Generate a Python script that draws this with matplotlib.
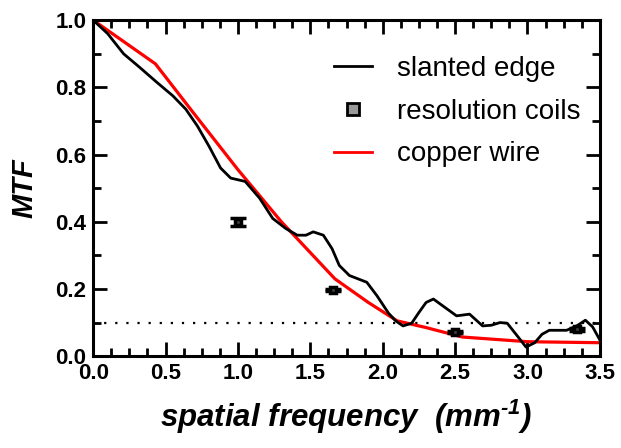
import numpy as np
import matplotlib.pyplot as plt
from matplotlib.lines import Line2D
from matplotlib.ticker import MultipleLocator

plt.rcParams['font.family'] = ['Liberation Sans', 'DejaVu Sans']
plt.rcParams['mathtext.fontset'] = 'custom'
plt.rcParams['mathtext.rm'] = 'Liberation Sans:bold:italic'
plt.rcParams['mathtext.it'] = 'Liberation Sans:bold:italic'

# slanted edge MTF
edge_f = [0.0, 0.1, 0.21, 0.32, 0.44, 0.55, 0.64, 0.72, 0.80, 0.88, 0.95, 1.05, 1.15,
          1.24, 1.33, 1.41, 1.47, 1.52, 1.59, 1.65, 1.70, 1.77, 1.89, 1.96, 2.04,
          2.09, 2.14, 2.20, 2.25, 2.30, 2.35, 2.43, 2.51, 2.60, 2.69, 2.75, 2.81,
          2.86, 2.93, 2.99, 3.05, 3.10, 3.15, 3.27, 3.34, 3.40, 3.45, 3.50]
edge_mtf = [1.0, 0.96, 0.90, 0.86, 0.815, 0.775, 0.735, 0.685, 0.625, 0.56, 0.53, 0.52, 0.47,
            0.41, 0.38, 0.36, 0.36, 0.37, 0.36, 0.32, 0.27, 0.24, 0.22, 0.18, 0.128,
            0.105, 0.09, 0.098, 0.13, 0.16, 0.17, 0.145, 0.12, 0.125, 0.09, 0.092, 0.10,
            0.098, 0.06, 0.027, 0.04, 0.065, 0.077, 0.077, 0.09, 0.107, 0.087, 0.048]

# copper wire MTF
wire_f = [0.0, 0.43, 0.7, 1.0, 1.3, 1.67, 1.9, 2.1, 2.3, 2.55, 3.0, 3.5]
wire_mtf = [1.0, 0.87, 0.72, 0.555, 0.40, 0.23, 0.16, 0.105, 0.085, 0.057, 0.043, 0.04]

# resolution coils
coil_f = [1.0, 1.66, 2.5, 3.34]
coil_mtf = [0.40, 0.197, 0.072, 0.08]
coil_err = [0.012, 0.004, 0.004, 0.004]

fig = plt.figure(figsize=(6.21, 4.48), dpi=100)
ax = fig.add_axes([0.150, 0.205, 0.816, 0.750])

ax.axhline(0.1, color='black', linestyle=(0, (1, 4)), linewidth=1.6, zorder=1)
ax.plot(wire_f, wire_mtf, color='#ff0000', linewidth=2.3, zorder=2)
ax.plot(edge_f, edge_mtf, color='black', linewidth=2.0, zorder=3)
ax.errorbar(coil_f, coil_mtf, yerr=coil_err, fmt='s', ms=4, mfc='#444444', mec='black',
            mew=2.5, ecolor='black', elinewidth=2, capsize=6, capthick=3.5, zorder=4)

ax.set_xlim(0, 3.5)
ax.set_ylim(0, 1.0)
ax.xaxis.set_major_locator(MultipleLocator(0.5))
ax.xaxis.set_minor_locator(MultipleLocator(0.125))
ax.yaxis.set_major_locator(MultipleLocator(0.2))
ax.yaxis.set_minor_locator(MultipleLocator(0.1))
ax.xaxis.set_major_formatter(plt.FormatStrFormatter('%.1f'))
ax.yaxis.set_major_formatter(plt.FormatStrFormatter('%.1f'))
ax.tick_params(which='both', direction='in', top=True, right=True, width=2)
ax.tick_params(which='major', length=10, labelsize=16, pad=5)
ax.tick_params(which='minor', length=6)
for lab in ax.get_xticklabels() + ax.get_yticklabels():
    lab.set_fontweight('bold')
for sp in ax.spines.values():
    sp.set_linewidth(2.2)

ax.set_xlabel(r'spatial frequency  (mm$^{\text{-1}}$)', fontsize=22.5, fontweight='bold',
              fontstyle='italic', labelpad=10)
ax.set_ylabel('MTF', fontsize=21, fontweight='bold', fontstyle='italic', labelpad=12)

handles = [Line2D([], [], color='black', linewidth=2),
           Line2D([], [], linestyle='none', marker='s', ms=8, mfc='#999999',
                  mec='black', mew=2),
           Line2D([], [], color='#ff0000', linewidth=2)]
ax.legend(handles, ['slanted edge', 'resolution coils', 'copper wire'],
          loc='upper right', bbox_to_anchor=(1.012, 0.968), frameon=False,
          fontsize=20, handlelength=1.4, handletextpad=0.9, labelspacing=0.6)

fig.savefig('out.png', dpi=100)
